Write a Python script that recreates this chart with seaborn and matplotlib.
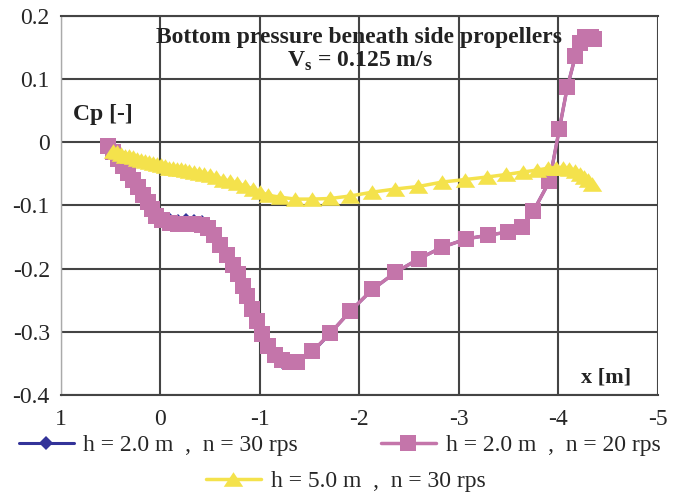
import matplotlib
matplotlib.use('Agg')
import matplotlib.pyplot as plt
import pandas as pd
import seaborn as sns

# Bottom pressure, h = 2.0 m, n = 20 rps (pink squares)
x_pink = [0.523, 0.472, 0.422, 0.372, 0.322, 0.271, 0.221, 0.171, 0.121, 0.080,
          0.040, -0.020, -0.101, -0.181, -0.261, -0.342, -0.422, -0.482, -0.543, -0.603,
          -0.673, -0.734, -0.784, -0.834, -0.874, -0.925, -0.975, -1.025, -1.085, -1.156,
          -1.226, -1.307, -1.377, -1.528, -1.709, -1.910, -2.131, -2.362, -2.603, -2.834,
          -3.075, -3.296, -3.497, -3.638, -3.749, -3.910, -4.010, -4.090, -4.171, -4.221,
          -4.271, -4.332, -4.362]
cp_pink = [-0.006, -0.016, -0.027, -0.038, -0.049, -0.060, -0.071, -0.084, -0.095, -0.106,
           -0.116, -0.123, -0.128, -0.130, -0.130, -0.130, -0.131, -0.136, -0.147, -0.163,
           -0.179, -0.195, -0.209, -0.228, -0.244, -0.264, -0.283, -0.304, -0.323, -0.337,
           -0.345, -0.347, -0.347, -0.331, -0.302, -0.267, -0.233, -0.206, -0.184, -0.166,
           -0.153, -0.147, -0.142, -0.134, -0.109, -0.062, 0.021, 0.087, 0.136, 0.157,
           0.166, 0.166, 0.163]

# h = 2.0 m, n = 30 rps (navy diamonds, almost hidden under the pink)
x_blue = x_pink
cp_blue = [-0.006, -0.016, -0.027, -0.038, -0.049, -0.060, -0.071, -0.084, -0.095, -0.105,
           -0.114, -0.120, -0.123, -0.124, -0.123, -0.124, -0.127, -0.134, -0.146, -0.163,
           -0.180, -0.198, -0.213, -0.232, -0.248, -0.268, -0.287, -0.307, -0.326, -0.340,
           -0.348, -0.349, -0.348, -0.332, -0.302, -0.267, -0.233, -0.206, -0.184, -0.166,
           -0.153, -0.147, -0.142, -0.134, -0.109, -0.062, 0.021, 0.087, 0.136, 0.157,
           0.166, 0.166, 0.163]

# h = 5.0 m, n = 30 rps (yellow triangles)
x_yellow = [0.472, 0.432, 0.392, 0.352, 0.312, 0.271, 0.231, 0.191, 0.151, 0.111,
            0.070, 0.030, -0.010, -0.050, -0.090, -0.131, -0.171, -0.211, -0.251, -0.291,
            -0.342, -0.392, -0.442, -0.503, -0.563, -0.633, -0.704, -0.774, -0.854, -0.935,
            -1.005, -1.085, -1.206, -1.357, -1.528, -1.709, -1.910, -2.131, -2.362, -2.593,
            -2.834, -3.065, -3.286, -3.477, -3.648, -3.789, -3.899, -3.980, -4.050, -4.111,
            -4.171, -4.221, -4.261, -4.302, -4.342]
cp_yellow = [-0.014, -0.016, -0.019, -0.021, -0.022, -0.024, -0.027, -0.028, -0.030, -0.032,
             -0.033, -0.035, -0.036, -0.038, -0.040, -0.041, -0.043, -0.043, -0.044, -0.046,
             -0.047, -0.049, -0.051, -0.052, -0.055, -0.059, -0.062, -0.065, -0.070, -0.074,
             -0.079, -0.084, -0.087, -0.090, -0.090, -0.089, -0.085, -0.079, -0.074, -0.070,
             -0.063, -0.059, -0.055, -0.051, -0.047, -0.044, -0.041, -0.040, -0.040, -0.043,
             -0.046, -0.051, -0.055, -0.060, -0.066]

labels = ['h = 2.0 m  ,  n = 30 rps', 'h = 2.0 m  ,  n = 20 rps', 'h = 5.0 m  ,  n = 30 rps']
xticks = [1, 0, -1, -2, -3, -4, -5]
yticks = [-0.4, -0.3, -0.2, -0.1, 0, 0.1, 0.2]

sns.set_style('white')
plt.rcParams['font.family'] = ['Liberation Serif', 'DejaVu Serif']
plt.rcParams['mathtext.fontset'] = 'custom'
plt.rcParams['mathtext.rm'] = 'Liberation Serif'
plt.rcParams['mathtext.bf'] = 'Liberation Serif:bold'

fig = plt.figure(figsize=(6.79, 4.95), dpi=100)
ax = fig.add_axes([0.0898, 0.202, 0.879, 0.766])

df_blue = pd.DataFrame({'x': x_blue, 'cp': cp_blue})
df_pink = pd.DataFrame({'x': x_pink, 'cp': cp_pink})
df_yellow = pd.DataFrame({'x': x_yellow, 'cp': cp_yellow})

# wide, flat triangle like the Excel marker
tri = [(-1, -0.75), (1, -0.75), (0, 0.75), (-1, -0.75)]

sns.lineplot(data=df_blue, x='x', y='cp', ax=ax, sort=False, estimator=None,
             color='#333399', marker='D', markersize=7, markeredgewidth=0,
             linewidth=2.2, label=labels[0])
sns.lineplot(data=df_pink, x='x', y='cp', ax=ax, sort=False, estimator=None,
             color='#C475AA', marker='s', markersize=12, markeredgewidth=0,
             linewidth=2.5, label=labels[1])
sns.lineplot(data=df_yellow, x='x', y='cp', ax=ax, sort=False, estimator=None,
             color='#F4E24C', marker=tri, markersize=14, markeredgewidth=0,
             linewidth=2.5, label=labels[2])

ax.set_xlim(1, -5)
ax.set_ylim(-0.4, 0.2)
ax.set_xticks(xticks)
ax.set_xticklabels([str(v) for v in xticks])
ax.set_yticks(yticks)
ax.set_yticklabels([f'{v:g}' for v in yticks])
ax.tick_params(axis='x', labelsize=17, length=0, pad=10)
ax.tick_params(axis='y', labelsize=17, length=0, pad=8)
ax.set_xlabel('')
ax.set_ylabel('')
ax.grid(True, color='#444444', linewidth=1.5)
ax.set_axisbelow(True)
ax.spines['right'].set_visible(False)
for side in ['top', 'bottom']:
    ax.spines[side].set_color('#444444')
    ax.spines[side].set_linewidth(1.5)
ax.spines['left'].set_color('#aaaaaa')
ax.spines['left'].set_linewidth(1)

ax.text(0.5, 0.942, 'Bottom pressure beneath side propellers', transform=ax.transAxes,
        ha='center', va='center', fontsize=17, fontweight='bold', color='#222222')
ax.text(0.5, 0.879, r'V$_{\mathbf{s}}$ = 0.125 m/s', transform=ax.transAxes,
        ha='center', va='center', fontsize=17, fontweight='bold', color='#222222')
ax.text(0.02, 0.739, 'Cp [-]', transform=ax.transAxes, ha='left', va='center',
        fontsize=17, fontweight='bold', color='#222222')
ax.text(0.956, 0.045, 'x [m]', transform=ax.transAxes, ha='right', va='center',
        fontsize=16, fontweight='bold', color='#222222')

handles, _ = ax.get_legend_handles_labels()
ax.get_legend().remove()
fig.legend(handles[:2], labels[:2], loc='center', bbox_to_anchor=(0.5, 0.101),
           ncol=2, frameon=False, fontsize=17, handlelength=2.33,
           columnspacing=3.5, handletextpad=0.42, borderpad=0, borderaxespad=0)
fig.legend(handles[2:], labels[2:], loc='center', bbox_to_anchor=(0.509, 0.028),
           frameon=False, fontsize=17, handlelength=2.33, handletextpad=0.42,
           borderpad=0, borderaxespad=0)

fig.savefig('out.png', dpi=100)
